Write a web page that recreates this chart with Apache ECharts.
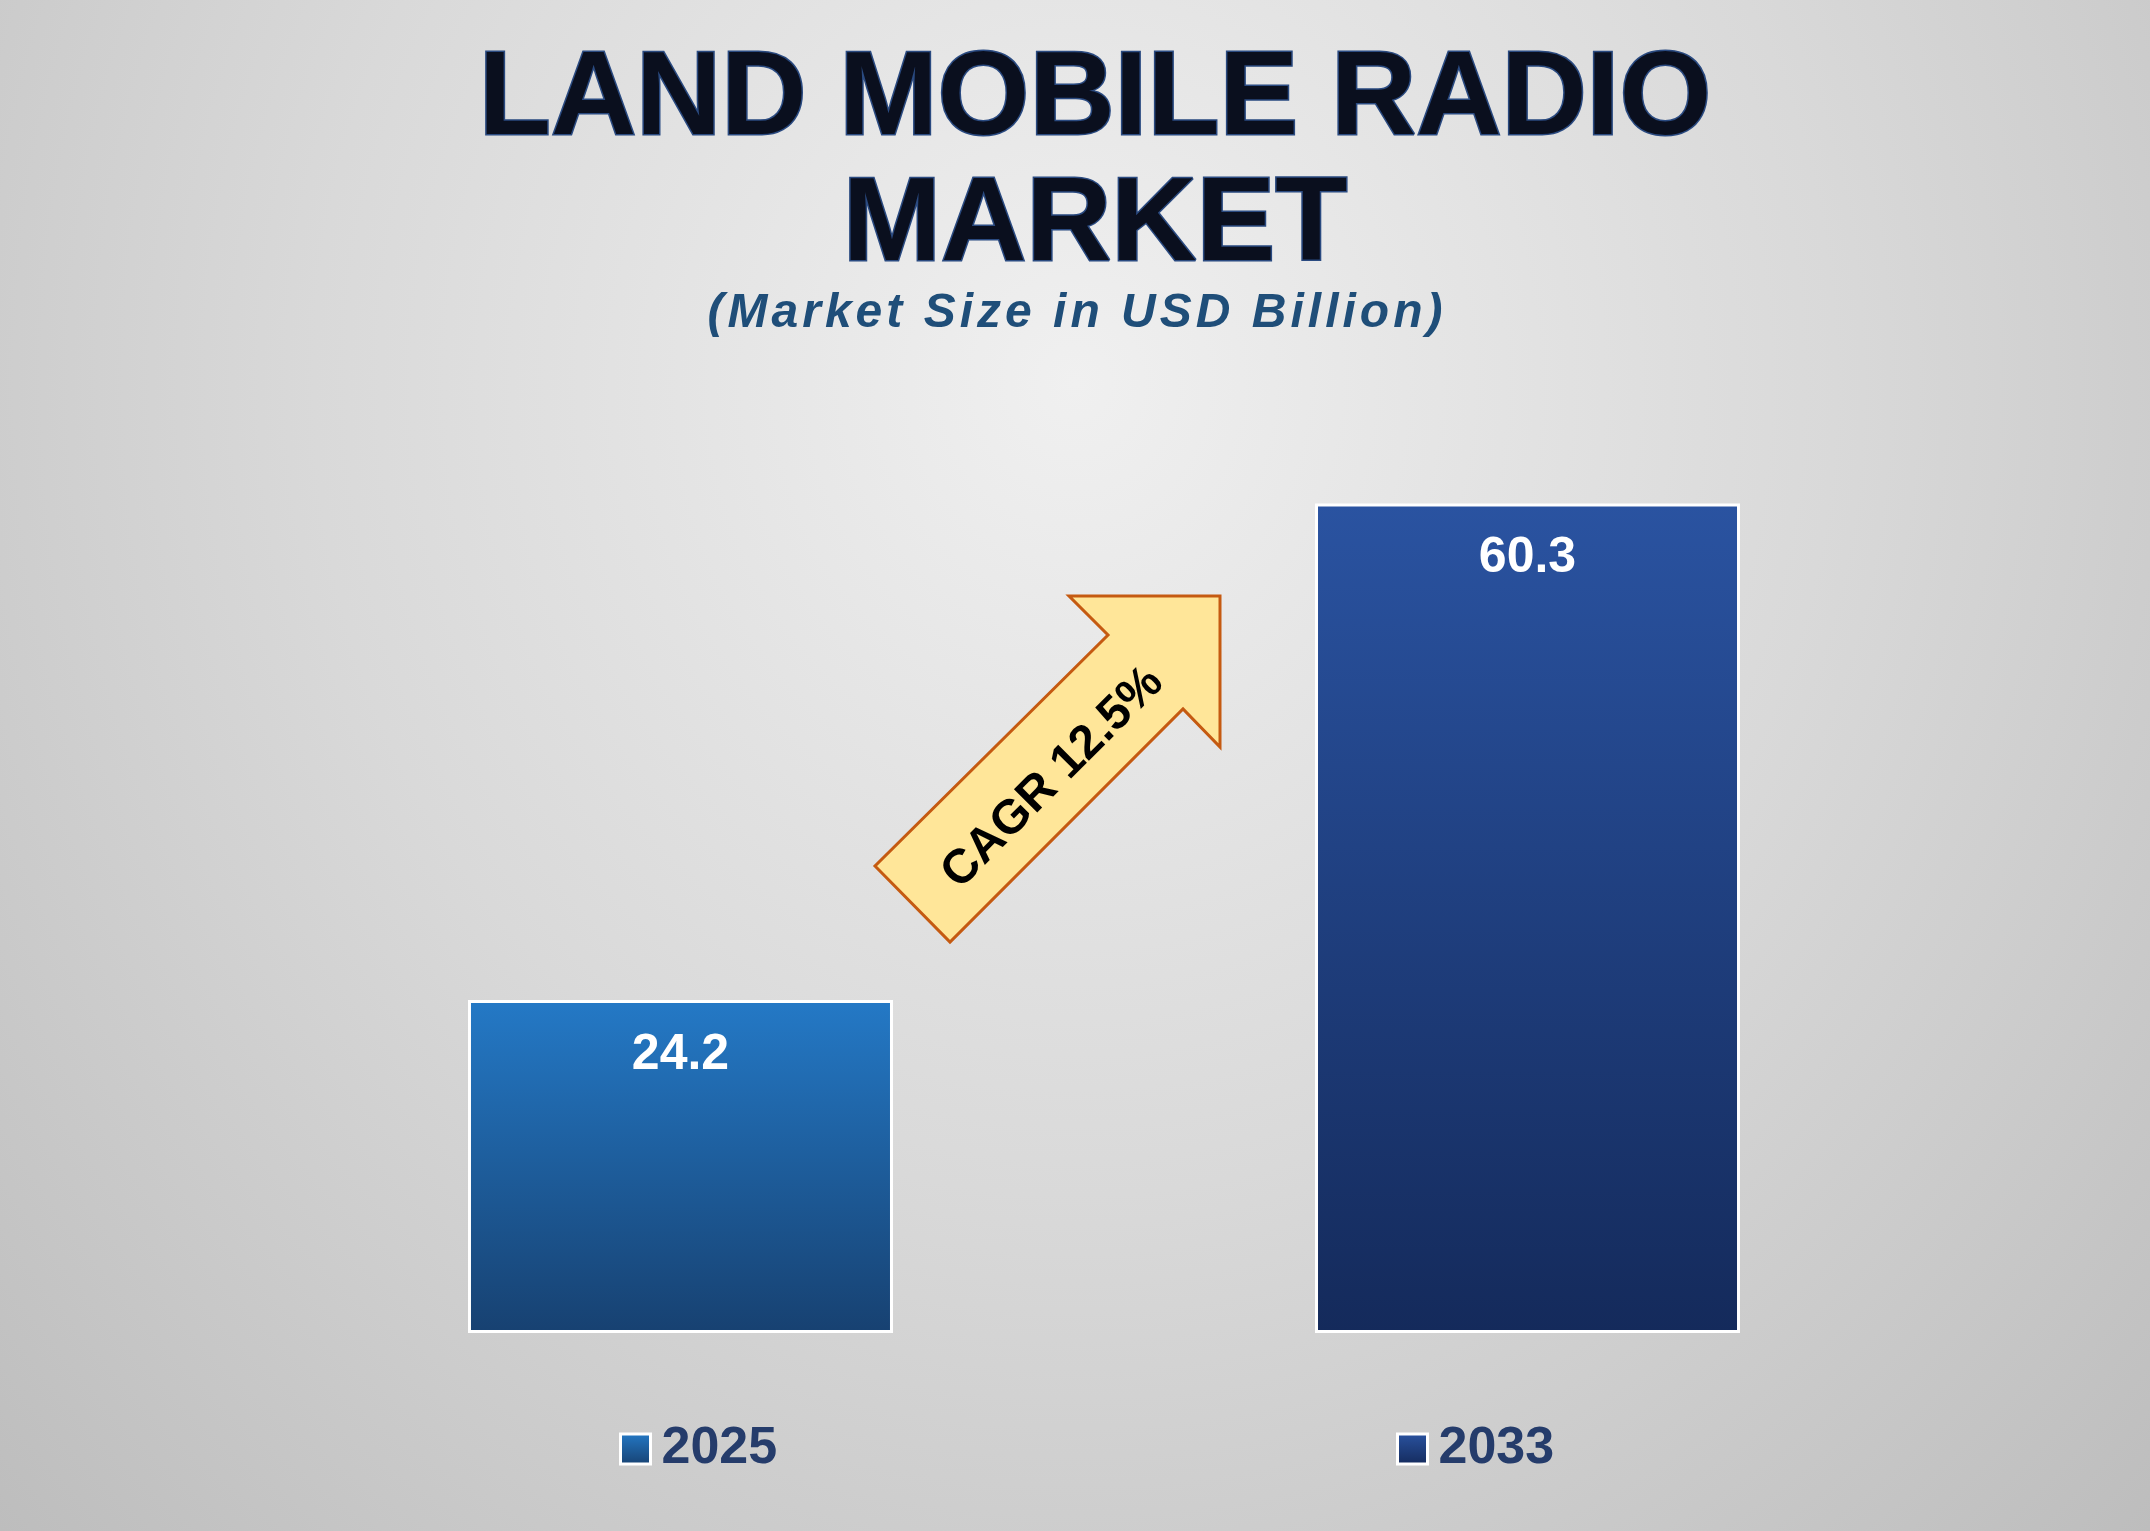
<!DOCTYPE html>
<html><head><meta charset="utf-8">
<script src="https://cdn.jsdelivr.net/npm/echarts@6/dist/echarts.min.js"></script>
<style>html,body{margin:0;padding:0;}
#c{width:2150px;height:1531px;background:radial-gradient(ellipse at 50% 25%,#f0f0f0 0%,#d9d9d9 50%,#bdbdbd 100%);}</style>
</head><body><div id="c"></div>
<script>
const categories = ['2025','2033'];
const values = [24.2, 60.3];
const cagrText = 'CAGR 12.5%';
const titleLines = 'LAND MOBILE RADIO\nMARKET';
const subtitle = '(Market Size in USD Billion)';

const grad = (a,b)=>new echarts.graphic.LinearGradient(0,0,0,1,[{offset:0,color:a},{offset:1,color:b}]);
const fills = [grad('#2479c6','#174171'), grad('#2a53a1','#142a5b')];
const legendColors = ['#1f5f9f','#1c3a78'];
const chart = echarts.init(document.getElementById('c'));
chart.setOption({
  animation:false,
  title:[{text:subtitle.split('').join('\u200a'),left:'center',top:285,
    textStyle:{fontFamily:'Liberation Sans, Arial',fontSize:48,fontWeight:'bold',fontStyle:'italic',color:'#1f4e79'}}],
  legend:[{data:[categories[0]],left:614,top:1418,itemWidth:30,itemHeight:30,icon:'rect',
      itemStyle:{borderColor:'#fff',borderWidth:3},
      textStyle:{fontFamily:'Liberation Sans, Arial',fontSize:52,fontWeight:'bold',color:'#253c6b',padding:[0,0,0,6]}},
    {data:[categories[1]],left:1391,top:1418,itemWidth:30,itemHeight:30,icon:'rect',
      itemStyle:{borderColor:'#fff',borderWidth:3},
      textStyle:{fontFamily:'Liberation Sans, Arial',fontSize:52,fontWeight:'bold',color:'#253c6b',padding:[0,0,0,6]}}],
  grid:{left:257,right:199,top:370,bottom:198},
  xAxis:{type:'category',data:[''],axisLine:{show:false},axisTick:{show:false},axisLabel:{show:false}},
  yAxis:{type:'value',min:0,max:70,show:false,splitLine:{show:false}},
  series: categories.map((c,i)=>({
    name:c,type:'bar',barWidth:425,barGap:'99.3%',
    data:[values[i]],
    itemStyle:{color:fills[i],borderColor:'#fff',borderWidth:3},
    label:{show:true,position:'insideTop',distance:30,formatter:'{c}',
      fontFamily:'Liberation Sans, Arial',fontSize:50,fontWeight:'bold',color:'#fff'}
  })),
  color:legendColors,
  graphic:[
    {type:'text',x:1095,y:38,
     style:{text:titleLines,align:'center',verticalAlign:'top',fill:'#0a0f1e',lineHeight:126,
       font:'bold 118px "Liberation Sans", Arial',stroke:'#2a4a80',lineWidth:3,
       shadowColor:'rgba(0,0,0,0.45)',shadowBlur:6,shadowOffsetX:3,shadowOffsetY:3}},
    {type:'polygon',shape:{points:[[875,866],[950,942],[1183,709],[1220,747],[1220,596],[1069,596],[1108,635]]},
     style:{fill:'#ffe699',stroke:'#c55a11',lineWidth:3}},
    {type:'text',x:1053,y:778,rotation:Math.PI/4,
     style:{text:cagrText,fill:'#000',font:'bold 48px "Liberation Sans", Arial',align:'center',verticalAlign:'middle'}}
  ]
});
</script></body></html>
